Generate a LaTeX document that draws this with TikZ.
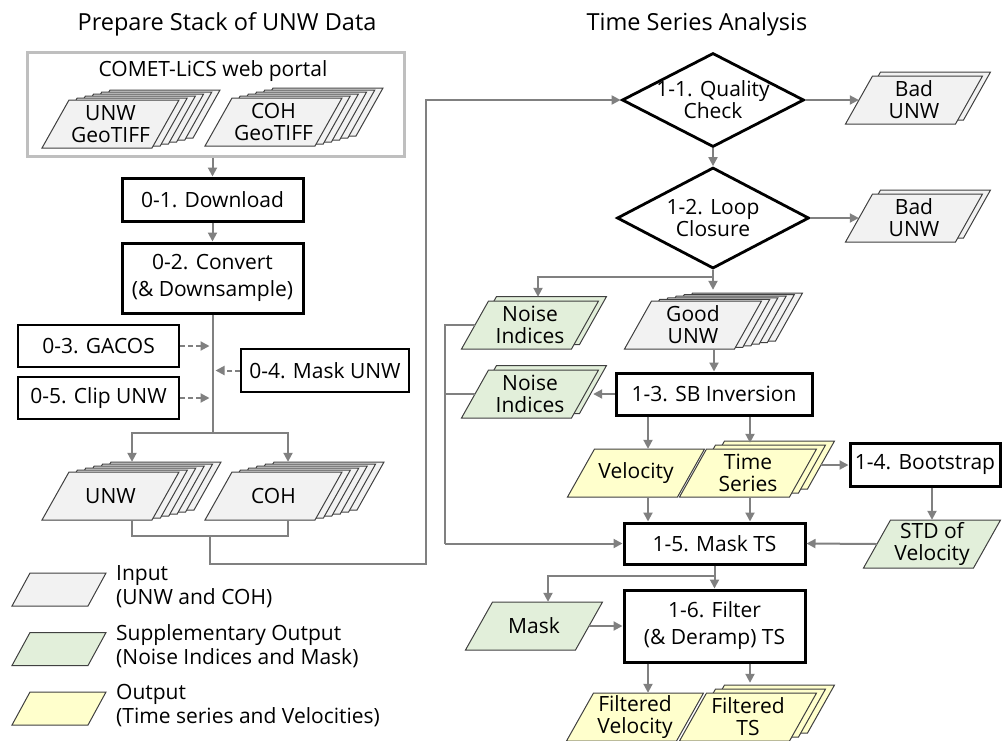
\documentclass[tikz,border=0pt]{standalone}
\usepackage{fontspec}
\setmainfont{Open Sans}
\usetikzlibrary{arrows.meta,shapes.geometric}

\definecolor{flowgray}{HTML}{808080}
\definecolor{portalgray}{HTML}{BFBFBF}
\definecolor{inputfill}{HTML}{F2F2F2}
\definecolor{suppfill}{HTML}{E2EFDA}
\definecolor{outfill}{HTML}{FFFFCC}

\begin{document}
\begin{tikzpicture}[
    x=1pt, y=-1pt,
    every node/.style={color=black, font=\fontsize{21}{27}\selectfont},
    heading/.style={font=\fontsize{23.5}{28}\selectfont},
    process/.style={draw, line width=3pt, minimum width=181pt, minimum height=43pt,
        inner sep=0pt, align=center},
    option box/.style={draw, line width=2pt, minimum height=42pt, inner sep=0pt},
    decision/.style={diamond, draw, line width=2.8pt, inner sep=0pt},
    sheet text/.style={minimum width=110pt, minimum height=48pt, inner sep=0pt,
        align=center, font=\fontsize{21}{22}\selectfont},
    key text/.style={anchor=west, align=left, inner sep=0pt,
        font=\fontsize{21}{24}\selectfont},
    flow line/.style={flowgray, line width=2pt},
    flow/.style={flow line, -{Triangle[length=9pt, width=9pt]}},
    dashed flow/.style={flow, dash pattern=on 5pt off 3pt, shorten >=3pt},
    pics/sheet/.style={code={
        \filldraw[draw=black!75, line width=1pt, fill=#1]
            (-68.5,24) -- (41.5,24) -- (68.5,-24) -- (-41.5,-24) -- cycle;}},
    pics/key sheet/.style={code={
        \filldraw[draw=black!75, line width=1pt, fill=#1]
            (-47,16.5) -- (29,16.5) -- (47,-16.5) -- (-29,-16.5) -- cycle;}}
    ]
    \useasboundingbox (0,0) rectangle (1006,740);

    % headings
    \node[heading] (preptitle) at (227,24) {Prepare Stack of UNW Data};
    \node[heading] (tsatitle) at (697,24) {Time Series Analysis};

    % portal
    \node[draw=portalgray, line width=3pt, minimum width=377pt, minimum height=104pt]
        (comet) at (215.5,104) {};
    \node (cometlbl) at (213,71) {COMET-LiCS web portal};
    \foreach \k in {5,...,1}{
        \pic[xshift=\k*8.2pt, yshift=\k*2pt] at (110.5,124) {sheet=inputfill};
        \pic[xshift=\k*8.2pt, yshift=\k*2pt] at (273.5,122) {sheet=inputfill};
    }
    \pic at (110.5,124) {sheet=inputfill};
    \node[sheet text] (unwtif) at (110.5,124) {UNW\\GeoTIFF};
    \pic at (273.5,122) {sheet=inputfill};
    \node[sheet text] (cohtif) at (273.5,122) {COH\\GeoTIFF};

    % preparation steps
    \node[process] (download) at (212.5,199.5) {0-1. Download};
    \node[process, minimum height=70pt] (convert) at (212.5,278) {0-2. Convert\\(\& Downsample)};
    \node[option box, minimum width=161pt] (gacos) at (98.5,346) {0-3. GACOS};
    \node[option box, minimum width=161pt] (clip) at (98.5,398) {0-5. Clip UNW};
    \node[option box, minimum width=168pt, minimum height=43pt] (maskunw) at (325,370.5) {0-4. Mask UNW};
    \coordinate (split) at (212.5,433);

    % prepared stacks
    \foreach \k in {5,...,1}{
        \pic[xshift=\k*8.4pt, yshift=\k*2pt] at (110.5,496) {sheet=inputfill};
        \pic[xshift=\k*8.4pt, yshift=\k*2pt] at (273.5,496) {sheet=inputfill};
    }
    \pic at (110.5,496) {sheet=inputfill};
    \node[sheet text] (unw) at (110.5,496) {UNW};
    \pic at (273.5,496) {sheet=inputfill};
    \node[sheet text] (coh) at (273.5,496) {COH};
    \coordinate (join) at (210,536);
    \coordinate (riser) at (426,564);

    % checks
    \node[decision, minimum width=182pt, minimum height=94pt] (qc) at (713,100) {};
    \node[sheet text] (qclbl) at (713,100) {1-1. Quality\\Check};
    \node[decision, minimum width=192pt, minimum height=101pt] (loop) at (713,218) {};
    \node[sheet text] (looplbl) at (713,218) {1-2. Loop\\Closure};
    \pic[xshift=8pt, yshift=4pt] at (914,100) {sheet=inputfill};
    \pic at (914,100) {sheet=inputfill};
    \node[sheet text] (bad1) at (914,100) {Bad\\UNW};
    \pic[xshift=8pt, yshift=4pt] at (914,218) {sheet=inputfill};
    \pic at (914,218) {sheet=inputfill};
    \node[sheet text] (bad2) at (914,218) {Bad\\UNW};

    % noise indices and good UNW
    \pic[xshift=8pt, yshift=4.5pt] at (530,325) {sheet=suppfill};
    \pic at (530,325) {sheet=suppfill};
    \node[sheet text] (noise1) at (530,325) {Noise\\Indices};
    \pic[xshift=8pt, yshift=4.5pt] at (530,394) {sheet=suppfill};
    \pic at (530,394) {sheet=suppfill};
    \node[sheet text] (noise2) at (530,394) {Noise\\Indices};
    \foreach \k in {5,...,1}
        \pic[xshift=\k*8.2pt, yshift=\k*1.6pt] at (693,325) {sheet=inputfill};
    \pic at (693,325) {sheet=inputfill};
    \node[sheet text] (good) at (693,325) {Good\\UNW};
    \coordinate (gather) at (445,543.5);

    % inversion
    \node[process, minimum width=196pt, minimum height=42pt] (sbinv) at (714,394) {1-3. SB Inversion};
    \pic at (636,473) {sheet=outfill};
    \node[sheet text] (velocity) at (636,473) {Velocity};
    \foreach \k in {2,1}
        \pic[xshift=\k*9pt, yshift=\k*4pt] at (748,473) {sheet=outfill};
    \pic at (748,473) {sheet=outfill};
    \node[sheet text] (ts) at (748,473) {Time\\Series};
    \node[process, minimum width=150pt] (bootstrap) at (925,464.5) {1-4. Bootstrap};
    \pic at (932,544) {sheet=suppfill};
    \node[sheet text] (std) at (932,544) {STD of\\Velocity};

    % masking and filtering
    \node[process, minimum height=41pt] (maskts) at (714.5,543.5) {1-5. Mask TS};
    \node[process, minimum height=72pt] (filter) at (714.5,626) {1-6. Filter\\(\& Deramp) TS};
    \pic at (534,626) {sheet=suppfill};
    \node[sheet text] (mask) at (534,626) {Mask};
    \pic at (635,717) {sheet=outfill};
    \node[sheet text] (filtvel) at (635,717) {Filtered\\Velocity};
    \foreach \k in {2,1}
        \pic[xshift=\k*9pt, yshift=\k*4pt] at (748,717) {sheet=outfill};
    \pic at (748,717) {sheet=outfill};
    \node[sheet text] (filtts) at (748,717) {Filtered\\TS};

    \coordinate (goodin) at ([xshift=20pt, yshift=11pt]good.north);
    \coordinate (velin) at ([xshift=12pt]velocity.north);
    \coordinate (tsin) at ([xshift=2pt, yshift=6pt]ts.north);
    \coordinate (tsout) at ([xshift=18pt, yshift=8pt]ts.east);
    \coordinate (fvin) at ([xshift=13pt]filtvel.north);
    \coordinate (ftsin) at ([xshift=2pt, yshift=10pt]filtts.north);

    % arrows, left
    \draw[flow] (download.north |- comet.south) -- (download.north);
    \draw[flow] (download) -- (convert);
    \draw[flow line] (convert.south) -- (split);
    \draw[flow] (split) -| ([xshift=21.5pt, yshift=10pt]unw.north);
    \draw[flow] (split) -| ([xshift=14.5pt, yshift=10pt]coh.north);
    \draw[dashed flow] (gacos.east) -- (gacos.east -| split);
    \draw[dashed flow] (clip.east) -- (clip.east -| split);
    \draw[dashed flow] (maskunw.west) -- (maskunw.west -| split);
    \draw[flow line] ([xshift=21.5pt]unw.south) -- ++(0,16) -| ([xshift=14.5pt]coh.south);
    \draw[flow] (join) |- (riser) |- (qc.west);

    % arrows, right
    \draw[flow] (qc.east) -- (bad1.west);
    \draw[flow] (qc.south) -- (loop.north);
    \draw[flow] (loop.east) -- (bad2.west);
    \draw[flow] (loop.south) -- ++(0,7) -| ([xshift=8pt, yshift=4pt]noise1.north);
    \draw[flow] (loop.south) -- (goodin);
    \draw[flow] (sbinv.north |- good.south) -- (sbinv.north);
    \draw[flow] (sbinv.west) -- ([xshift=8pt]noise2.east);
    \draw[flow line] (noise1.west) -| (gather);
    \draw[flow line] (noise2.west) -- (noise2.west -| gather);
    \draw[flow] (gather) -- (maskts.west);
    \draw[flow] (velin |- sbinv.south) -- (velin);
    \draw[flow] (tsin |- sbinv.south) -- (tsin);
    \draw[flow] (velocity.south -| velin) -- (velin |- maskts.north);
    \draw[flow] (ts.south -| tsin) -- (tsin |- maskts.north);
    \draw[flow] (tsout) -- (tsout -| bootstrap.west);
    \draw[flow] (std.north |- bootstrap.south) -- (std.north);
    \draw[flow] (std.west) -- (maskts.east);
    \draw[flow] (maskts.south) -- (filter.north);
    \draw[flow] ([yshift=-10pt]maskts.south) -| ([xshift=14pt]mask.north);
    \draw[flow] (mask.east) -- (filter.west);
    \draw[flow] (fvin |- filter.south) -- (fvin);
    \draw[flow] (ftsin |- filter.south) -- (ftsin);

    % legend
    \pic at (59,589.5) {key sheet=inputfill};
    \node[key text] (keyin) at (116,587) {Input\\(UNW and COH)};
    \pic at (59,649) {key sheet=suppfill};
    \node[key text] (keysupp) at (116,646) {Supplementary Output\\(Noise Indices and Mask)};
    \pic at (59,708.5) {key sheet=outfill};
    \node[key text] (keyout) at (116,706) {Output\\(Time series and Velocities)};
\end{tikzpicture}
\end{document}
